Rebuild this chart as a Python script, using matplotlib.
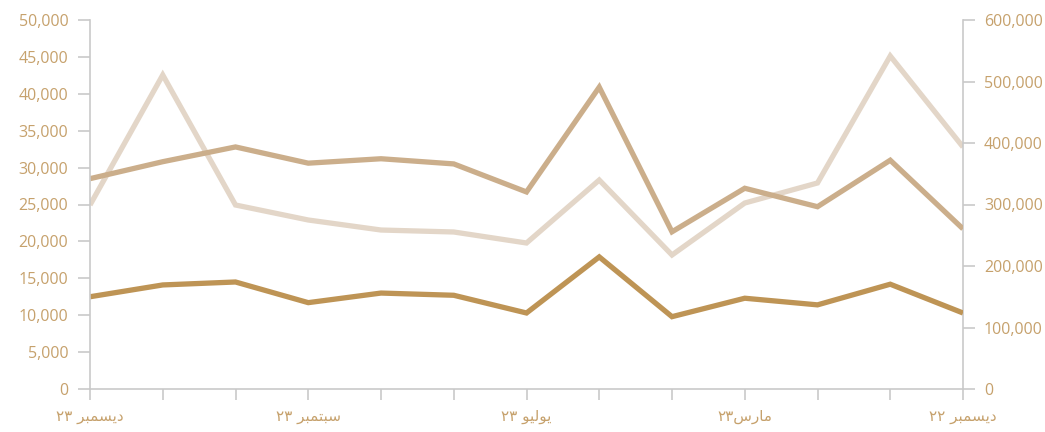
import matplotlib
matplotlib.use("Agg")
import matplotlib.pyplot as plt
from matplotlib.ticker import FuncFormatter, MultipleLocator

# Months from December 2022 (right edge) to December 2023 (left edge)
months = list(range(13))

# Pre-shaped Arabic month labels (visual order), shown every third month
tick_positions = [0, 3, 6, 9, 12]
tick_labels = [
    "\u0662\u0662 \uFEAE\uFE92\uFEE4\uFEB4\uFEF3\uFEA9",   # ديسمبر ٢٢
    "\u0662\u0663\uFEB1\uFEAD\uFE8E\uFEE3",               # مارس٢٣
    "\u0662\u0663 \uFEEE\uFEF4\uFEDF\uFEEE\uFEF3",         # يوليو ٢٣
    "\u0662\u0663 \uFEAE\uFE92\uFEE4\uFE98\uFE92\uFEB3",   # سبتمبر ٢٣
    "\u0662\u0663 \uFEAE\uFE92\uFEE4\uFEB4\uFEF3\uFEA9",   # ديسمبر ٢٣
]

# Left-axis series
series_dark = [10300, 14200, 11400, 12300, 9800, 17900, 10300,
               12700, 13000, 11700, 14500, 14100, 12500]
series_mid = [21700, 31000, 24700, 27200, 21300, 40900, 26700,
              30500, 31200, 30600, 32800, 30800, 28500]
# Right-axis series
series_light = [393500, 541500, 335000, 302400, 217900, 339800, 237400,
                255300, 258500, 274800, 299200, 510600, 299200]

c_dark = "#BE9455"
c_mid = "#CBAE8B"
c_light = "#E3D6C8"
c_text = "#C6A16C"
c_axis = "#C9C9C9"

fig = plt.figure(figsize=(10.45, 4.32), dpi=100)
ax = fig.add_axes([90 / 1045, 43 / 432, (963 - 90) / 1045, (389 - 20) / 432])
ax2 = ax.twinx()
ax.set_zorder(ax2.get_zorder() + 1)
ax.patch.set_visible(False)

lw = 3.8
ax2.plot(months, series_light, color=c_light, lw=lw,
         solid_joinstyle="miter", solid_capstyle="butt")
ax.plot(months, series_mid, color=c_mid, lw=lw,
        solid_joinstyle="miter", solid_capstyle="butt")
ax.plot(months, series_dark, color=c_dark, lw=lw,
        solid_joinstyle="miter", solid_capstyle="butt")

ax.set_xlim(12, 0)
ax.set_ylim(0, 50000)
ax2.set_ylim(0, 600000)
ax.yaxis.set_major_locator(MultipleLocator(5000))
ax2.yaxis.set_major_locator(MultipleLocator(100000))
fmt = FuncFormatter(lambda v, p: f"{int(v):,}")
ax.yaxis.set_major_formatter(fmt)
ax2.yaxis.set_major_formatter(fmt)

ax.set_xticks(months)
ax.set_xticklabels([""] * len(months))
for pos, lab in zip(tick_positions, tick_labels):
    ax.text(pos, -0.075, lab, transform=ax.get_xaxis_transform(),
            ha="center", va="center", fontsize=11, color=c_text,
            family=["DejaVu Sans"])

for a in (ax, ax2):
    a.spines["top"].set_visible(False)
    for s in ("left", "right", "bottom"):
        a.spines[s].set_color(c_axis)
        a.spines[s].set_linewidth(1.2)

ax.spines["right"].set_visible(False)
ax2.spines["left"].set_visible(False)
ax2.spines["bottom"].set_visible(False)

ax.tick_params(axis="y", length=8.5, width=1.2, color=c_axis, pad=7,
               labelcolor=c_text, labelsize=11.5)
ax2.tick_params(axis="y", length=8.5, width=1.2, color=c_axis, pad=6.5,
                labelcolor=c_text, labelsize=11.5)
ax.tick_params(axis="x", length=8, width=1.2, color=c_axis)
for lab in ax.get_yticklabels() + ax2.get_yticklabels():
    lab.set_family(["Open Sans", "DejaVu Sans"])

fig.savefig("out.png", dpi=100, facecolor="white")
